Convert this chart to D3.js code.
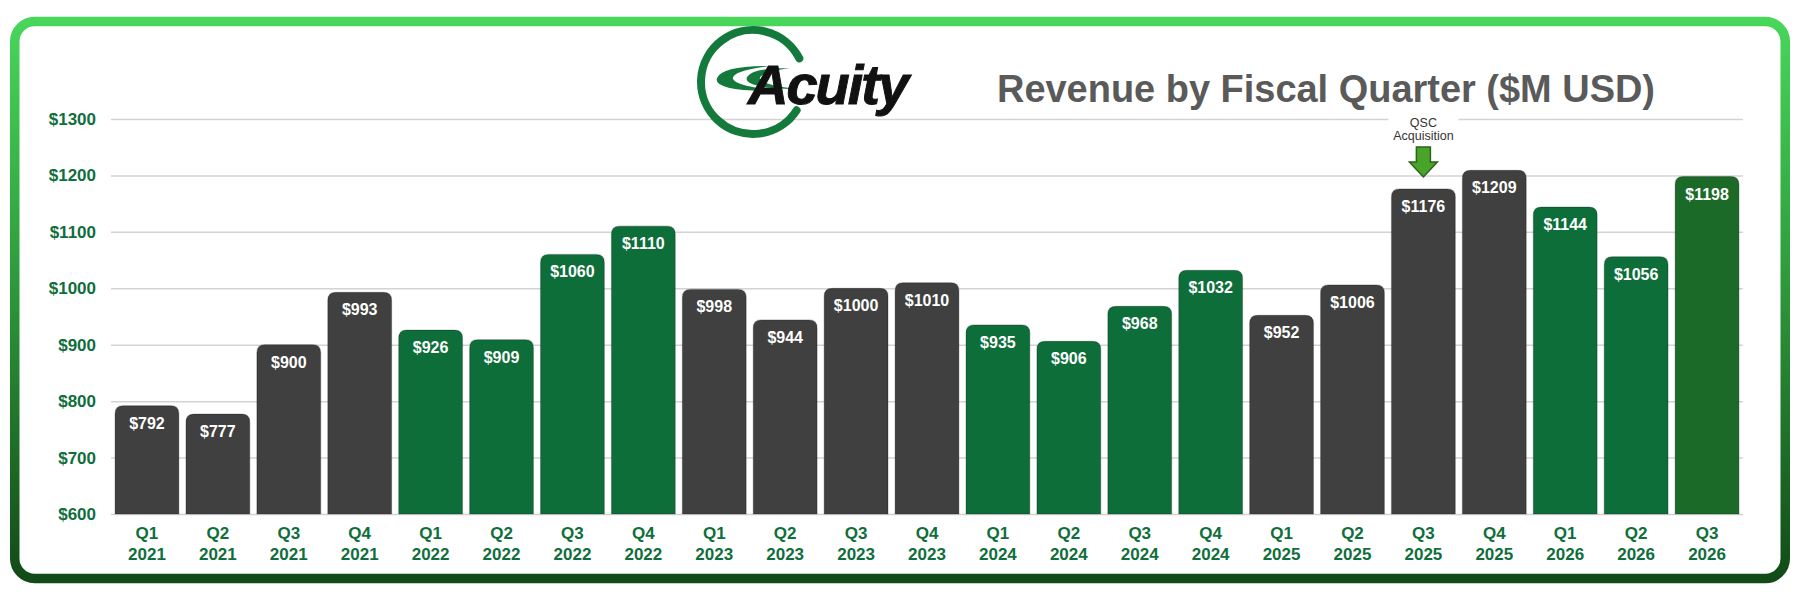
<!DOCTYPE html>
<html>
<head>
  <meta charset="UTF-8">
  <style>
    body { margin: 0; background: white; }
    svg text { font-family: "Liberation Sans", Arial, sans-serif; }
    .ylab { font-size: 17px; font-weight: bold; fill: #0f6e3b; }
    .xlab { font-size: 17px; font-weight: bold; fill: #0f6e3b; }
    .vlab { font-size: 16px; font-weight: bold; fill: white; }
  </style>
</head>
<body>
<svg id="chart" width="1802" height="607"></svg>

<script src="https://d3js.org/d3.v7.min.js"></script>
<script>

// data
const quarters = ["Q1","Q2","Q3","Q4","Q1","Q2","Q3","Q4","Q1","Q2","Q3","Q4",
                  "Q1","Q2","Q3","Q4","Q1","Q2","Q3","Q4","Q1","Q2","Q3"];
const years = ["2021","2021","2021","2021","2022","2022","2022","2022","2023","2023","2023","2023",
               "2024","2024","2024","2024","2025","2025","2025","2025","2026","2026","2026"];
const revenue = [792, 777, 900, 993, 926, 909, 1060, 1110, 998, 944, 1000, 1010,
                 935, 906, 968, 1032, 952, 1006, 1176, 1209, 1144, 1056, 1198];
const yTicks = [600, 700, 800, 900, 1000, 1100, 1200, 1300];
const yearColor = {"2021": "#404040", "2022": "#0d6e3a", "2023": "#404040",
                   "2024": "#0d6e3a", "2025": "#404040", "2026": "#0d6e3a"};
const latestColor = "#1b6a28";

let svg = d3.select("#chart");

// frame with green gradient
let defs = svg.append("defs");
let grad = defs.append("linearGradient")
    .attr("id", "frameGrad")
    .attr("x1", 0).attr("y1", 0).attr("x2", 0).attr("y2", 1);
grad.append("stop").attr("offset", "0%").attr("stop-color", "#48d65b");
grad.append("stop").attr("offset", "45%").attr("stop-color", "#2e9c3c");
grad.append("stop").attr("offset", "100%").attr("stop-color", "#124b18");

svg.append("rect")
    .attr("x", 14.75).attr("y", 21.5)
    .attr("width", 1770.5).attr("height", 557)
    .attr("rx", 20)
    .attr("fill", "white")
    .attr("stroke", "url(#frameGrad)")
    .attr("stroke-width", 9.5);

// scales
let x = d3.scaleBand()
    .domain(d3.range(revenue.length))
    .range([111.5, 1742.5])
    .paddingInner(0.1)
    .paddingOuter(0.05);

let y = d3.scaleLinear()
    .domain([600, 1300])
    .range([514, 119]);

// gridlines + y labels
let yAxis = svg.append("g")
    .attr("transform", "translate(111,0)")
    .call(d3.axisLeft(y)
        .tickValues(yTicks)
        .tickSizeInner(-(1743 - 111))
        .tickSizeOuter(0)
        .tickPadding(15)
        .tickFormat(d => "$" + d));
yAxis.select(".domain").remove();
yAxis.selectAll(".tick line")
    .attr("stroke", "#d3d3d3")
    .attr("stroke-width", 1.5);
yAxis.selectAll(".tick text")
    .attr("class", "ylab")
    .attr("font-family", null)
    .attr("font-size", null);

// bars with rounded tops
function barPath(i) {
    let x0 = x(i), w = x.bandwidth(), y0 = y(revenue[i]), yb = y(600), r = 8;
    return "M" + x0 + "," + yb +
        "V" + (y0 + r) +
        "Q" + x0 + "," + y0 + " " + (x0 + r) + "," + y0 +
        "H" + (x0 + w - r) +
        "Q" + (x0 + w) + "," + y0 + " " + (x0 + w) + "," + (y0 + r) +
        "V" + yb + "Z";
}

let bars = svg.append("g").attr("id", "bars");
bars.selectAll("path")
    .data(revenue)
    .enter()
    .append("path")
    .attr("d", (d, i) => barPath(i))
    .attr("fill", (d, i) => i == revenue.length - 1 ? latestColor : yearColor[years[i]])
    .attr("stroke", "rgba(0,0,0,0.22)")
    .attr("stroke-width", 1.2);

bars.selectAll("text")
    .data(revenue)
    .enter()
    .append("text")
    .attr("class", "vlab")
    .attr("text-anchor", "middle")
    .attr("x", (d, i) => x(i) + x.bandwidth() / 2)
    .attr("y", d => y(d) + 23)
    .text(d => "$" + d);

// x labels
let xl = svg.append("g").attr("id", "xlabels");
quarters.forEach((q, i) => {
    let t = xl.append("text")
        .attr("class", "xlab")
        .attr("text-anchor", "middle");
    t.append("tspan")
        .attr("x", x(i) + x.bandwidth() / 2)
        .attr("y", 539)
        .text(q);
    t.append("tspan")
        .attr("x", x(i) + x.bandwidth() / 2)
        .attr("y", 560)
        .text(years[i]);
});

// annotation: QSC acquisition
let ai = quarters.length - 5; // Q3 2025
let ax = x(ai) + x.bandwidth() / 2;
svg.append("rect")
    .attr("x", ax - 35).attr("y", 110)
    .attr("width", 70).attr("height", 34)
    .attr("fill", "white");
svg.append("text")
    .attr("x", ax).attr("y", 127)
    .attr("text-anchor", "middle")
    .attr("font-size", 12.5)
    .attr("fill", "#333")
    .text("QSC");
svg.append("text")
    .attr("x", ax).attr("y", 140)
    .attr("text-anchor", "middle")
    .attr("font-size", 12.5)
    .attr("fill", "#333")
    .text("Acquisition");
svg.append("path")
    .attr("d", "M" + (ax - 7) + ",147 H" + (ax + 7) + " V162 H" + (ax + 14) +
        " L" + ax + ",177 L" + (ax - 14) + ",162 H" + (ax - 7) + " Z")
    .attr("fill", "#4aa42a")
    .attr("stroke", "#2b6318")
    .attr("stroke-width", 1.5)
    .attr("stroke-linejoin", "miter");

// title
svg.append("text")
    .attr("x", 997).attr("y", 102)
    .attr("font-family", "'Open Sans', sans-serif")
    .attr("font-weight", 800)
    .attr("font-size", 38)
    .attr("fill", "#5a5a5a")
    .attr("textLength", 658)
    .attr("lengthAdjust", "spacingAndGlyphs")
    .text("Revenue by Fiscal Quarter ($M USD)");

// logo
let logo = svg.append("g").attr("id", "logo");
let cx = 753, cy = 82, cr = 52;
let arcPath = d3.path();
arcPath.arc(cx, cy, cr, 33 * Math.PI / 180, (360 - 27) * Math.PI / 180);
logo.append("path")
    .attr("d", arcPath.toString())
    .attr("fill", "none")
    .attr("stroke", "#137a3c")
    .attr("stroke-width", 8)
    .attr("stroke-linecap", "round");
logo.append("path")
    .attr("d", "M784,91 Q712,92 717,78 Q722,66 770,66 Q731,71 733,79 Q737,87 784,91 Z")
    .attr("fill", "#137a3c");
logo.append("path")
    .attr("d", "M796,89 Q742,88 747,77 Q752,68 790,68 Q758,73 760,79 Q763,85 796,89 Z")
    .attr("fill", "#137a3c");
logo.append("text")
    .attr("x", 748).attr("y", 104)
    .attr("font-family", "'Liberation Sans', Arial, sans-serif")
    .attr("font-weight", "bold")
    .attr("font-style", "italic")
    .attr("font-size", 56)
    .attr("letter-spacing", -2)
    .attr("fill", "#111")
    .attr("stroke", "#111")
    .attr("stroke-width", 1)
    .text("Acuity");

</script>
</body>
</html>
